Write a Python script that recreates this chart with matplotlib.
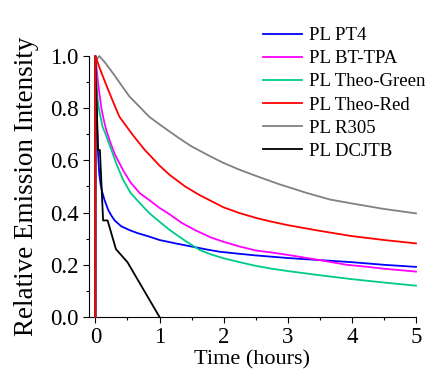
import matplotlib.pyplot as plt
from matplotlib.ticker import MultipleLocator

plt.rcParams['font.family'] = ['Liberation Serif', 'DejaVu Serif']

# PL decay curves (time in hours, relative intensity)
t_pt4 = [0, 0, 0.02, 0.04, 0.06, 0.08, 0.1, 0.14, 0.2, 0.25, 0.3, 0.4, 0.53, 0.65, 0.84, 1.0,
         1.25, 1.5, 1.75, 1.94, 2.25, 2.5, 2.75, 3.0, 3.5, 4.0, 4.5, 5.0]
v_pt4 = [0, 1.0, 0.78, 0.63, 0.55, 0.51, 0.485, 0.45, 0.41, 0.388, 0.37, 0.348, 0.333, 0.322, 0.308, 0.295,
         0.282, 0.27, 0.258, 0.25, 0.242, 0.236, 0.231, 0.226, 0.218, 0.21, 0.2, 0.192]

t_bt = [0, 0, 0.02, 0.036, 0.06, 0.1, 0.14, 0.17, 0.22, 0.3, 0.43, 0.55, 0.69, 0.84, 1.0, 1.16,
        1.35, 1.57, 1.8, 2.0, 2.25, 2.5, 2.75, 3.0, 3.25, 3.5, 3.92, 4.25, 4.5, 5.0]
v_bt = [0, 1.0, 0.95, 0.91, 0.86, 0.79, 0.745, 0.716, 0.678, 0.625, 0.563, 0.515, 0.475, 0.448, 0.418, 0.393,
        0.36, 0.331, 0.305, 0.288, 0.27, 0.255, 0.247, 0.238, 0.228, 0.218, 0.2, 0.192, 0.185, 0.174]

t_green = [0, 0, 0.02, 0.036, 0.06, 0.11, 0.16, 0.2, 0.25, 0.33, 0.43, 0.55, 0.69, 0.84, 1.0, 1.16,
           1.4, 1.625, 1.8, 2.0, 2.25, 2.5, 2.75, 3.03, 3.5, 4.0, 4.5, 5.0]
v_green = [0, 1.0, 0.88, 0.83, 0.79, 0.73, 0.70, 0.672, 0.64, 0.585, 0.527, 0.475, 0.437, 0.398, 0.365, 0.333,
           0.292, 0.257, 0.24, 0.225, 0.21, 0.196, 0.185, 0.175, 0.16, 0.145, 0.132, 0.12]

t_red = [0, 0, 0.05, 0.1, 0.2, 0.3, 0.375, 0.5, 0.6, 0.77, 0.84, 1.0, 1.16, 1.4, 1.625, 1.8,
         2.0, 2.25, 2.5, 2.75, 3.0, 3.5, 4.0, 4.5, 5.0]
v_red = [0, 1.0, 0.965, 0.932, 0.87, 0.81, 0.767, 0.725, 0.692, 0.64, 0.622, 0.58, 0.544, 0.5, 0.467, 0.445,
         0.42, 0.398, 0.38, 0.365, 0.352, 0.33, 0.31, 0.295, 0.282]

t_r305 = [0, 0, 0.06, 0.15, 0.3, 0.4, 0.53, 0.65, 0.84, 1.0, 1.16, 1.3, 1.49, 1.78, 2.0, 2.25,
          2.5, 2.875, 3.03, 3.3, 3.66, 4.0, 4.5, 5.0]
v_r305 = [0, 0.98, 1.0, 0.975, 0.925, 0.89, 0.845, 0.815, 0.767, 0.738, 0.71, 0.686, 0.655, 0.617, 0.59, 0.564,
          0.541, 0.508, 0.496, 0.475, 0.45, 0.435, 0.414, 0.397]

t_dcjtb = [0, 0, 0.04, 0.07, 0.12, 0.19, 0.32, 0.5, 1.0]
v_dcjtb = [0, 1.0, 0.64, 0.64, 0.37, 0.37, 0.26, 0.21, 0.0]

series = [
    ('PL PT4', t_pt4, v_pt4, '#0000FF'),
    ('PL BT-TPA', t_bt, v_bt, '#FF00FF'),
    ('PL Theo-Green', t_green, v_green, '#00C98C'),
    ('PL Theo-Red', t_red, v_red, '#FF0000'),
    ('PL R305', t_r305, v_r305, '#808080'),
    ('PL DCJTB', t_dcjtb, v_dcjtb, '#000000'),
]

fig = plt.figure(figsize=(4.25, 3.72), dpi=100)
ax = fig.add_axes([89 / 425, 55 / 372, 327 / 425, 261 / 372])

for label, t, v, c in series:
    z = 5 if label == 'PL Theo-Red' else 3
    ax.plot(t, v, color=c, lw=1.3, label=label, zorder=z, clip_on=False)

ax.set_xlim(-0.1, 5)
ax.set_ylim(0, 1.0)
ax.xaxis.set_major_locator(MultipleLocator(1))
ax.xaxis.set_minor_locator(MultipleLocator(0.5))
ax.yaxis.set_major_locator(MultipleLocator(0.2))
ax.yaxis.set_minor_locator(MultipleLocator(0.1))
ax.yaxis.set_major_formatter(plt.FormatStrFormatter('%.1f'))
ax.spines['top'].set_visible(False)
ax.spines['right'].set_visible(False)
ax.tick_params(which='major', length=4, width=0.8, labelsize=16.5)
ax.tick_params(which='minor', length=2.5, width=0.8)

ax.set_xlabel('Time (hours)', fontsize=16, labelpad=1)
ax.set_ylabel('Relative Emission Intensity', fontsize=19.5, labelpad=8)

fig.legend(loc='upper left', bbox_to_anchor=(263 / 425, 1 - 27 / 372), frameon=False,
           fontsize=13.5, handlelength=2.1, handletextpad=0.35, labelspacing=0.32,
           borderpad=0, borderaxespad=0)

fig.savefig('out.png', dpi=100)
